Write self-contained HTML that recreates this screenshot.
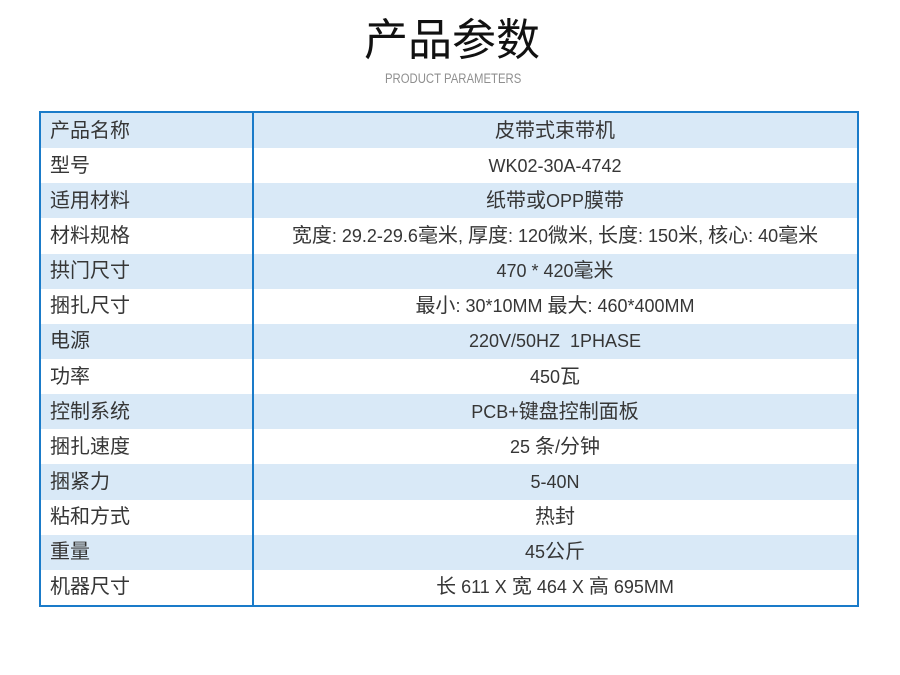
<!DOCTYPE html>
<html>
<head>
<meta charset="utf-8">
<style>
html,body{margin:0;padding:0;background:#fff;}
body{width:900px;height:675px;position:relative;overflow:hidden;font-family:"Liberation Sans","Noto Sans CJK SC",sans-serif;color:#333;}
.title{position:absolute;left:0;width:904px;top:18px;height:46px;line-height:46px;text-align:center;font-size:44px;font-weight:400;color:#111;font-family:"Liberation Sans","Noto Sans CJK SC",sans-serif;}
.sub{position:absolute;left:0;width:906px;top:70px;height:18px;line-height:18px;text-align:center;font-size:13.5px;color:#8f8f8f;}
.sub span{display:inline-block;transform:scaleX(0.84);}
.tbl{position:absolute;left:39px;top:111px;width:816px;height:492px;border:2px solid #1a7bc9;display:flex;flex-direction:column;}
.row{flex:1;display:flex;align-items:center;position:relative;}
.row.b{background:#d9e9f7;}
.l{width:210px;padding-left:9px;box-sizing:border-box;font-size:20px;line-height:1;color:#363636;}
.r{flex:1;text-align:center;font-size:20px;line-height:1;margin-left:2px;color:#363636;}
.n{font-size:18px;}
.div{position:absolute;left:211px;top:0;width:2px;height:492px;background:#1a7bc9;z-index:2;}
</style>
</head>
<body>
<div class="title">产品参数</div>
<div class="sub"><span>PRODUCT PARAMETERS</span></div>
<div class="tbl">
  <div class="div"></div>
  <div class="row b"><div class="l">产品名称</div><div class="r">皮带式束带机</div></div>
  <div class="row"><div class="l">型号</div><div class="r"><span class="n">WK02-30A-4742</span></div></div>
  <div class="row b"><div class="l">适用材料</div><div class="r">纸带或<span class="n">OPP</span>膜带</div></div>
  <div class="row"><div class="l">材料规格</div><div class="r">宽度<span class="n">: 29.2-29.6</span>毫米<span class="n">, </span>厚度<span class="n">: 120</span>微米<span class="n">, </span>长度<span class="n">: 150</span>米<span class="n">, </span>核心<span class="n">: 40</span>毫米</div></div>
  <div class="row b"><div class="l">拱门尺寸</div><div class="r"><span class="n">470 * 420</span>毫米</div></div>
  <div class="row"><div class="l">捆扎尺寸</div><div class="r">最小<span class="n">: 30*10MM </span>最大<span class="n">: 460*400MM</span></div></div>
  <div class="row b"><div class="l">电源</div><div class="r"><span class="n">220V/50HZ&nbsp;&nbsp;1PHASE</span></div></div>
  <div class="row"><div class="l">功率</div><div class="r"><span class="n">450</span>瓦</div></div>
  <div class="row b"><div class="l">控制系统</div><div class="r"><span class="n">PCB+</span>键盘控制面板</div></div>
  <div class="row"><div class="l">捆扎速度</div><div class="r"><span class="n">25 </span>条<span class="n">/</span>分钟</div></div>
  <div class="row b"><div class="l">捆紧力</div><div class="r"><span class="n">5-40N</span></div></div>
  <div class="row"><div class="l">粘和方式</div><div class="r">热封</div></div>
  <div class="row b"><div class="l">重量</div><div class="r"><span class="n">45</span>公斤</div></div>
  <div class="row"><div class="l">机器尺寸</div><div class="r">长<span class="n"> 611 X </span>宽<span class="n"> 464 X </span>高<span class="n"> 695MM</span></div></div>
</div>
</body>
</html>
